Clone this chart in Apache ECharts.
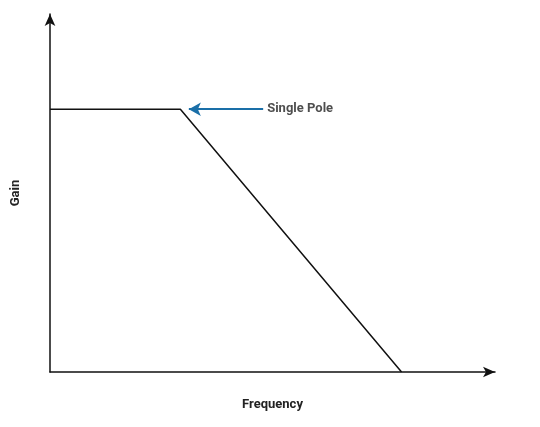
<!DOCTYPE html>
<html>
<head>
<meta charset="utf-8">
<script src="https://cdn.jsdelivr.net/npm/echarts@6/dist/echarts.min.js"></script>
<style>html,body{margin:0;background:#fff}#c{width:540px;height:427px}</style>
</head>
<body>
<div id="c"></div>
<script>
// frequency (x) and gain (y) of the response corners, axis spans 0..100
const freq = [0, 29.3, 79];
const gain = [73.4, 73.4, 0];
const poleArrow = [[47.9, 73.4], [31.2, 73.4]];
const poleLabel = "Single Pole";

const chart = echarts.init(document.getElementById("c"));
chart.setOption({
  animation: false,
  grid: { left: 50, right: 45, top: 14, bottom: 55 },
  xAxis: {
    type: "value", min: 0, max: 100,
    name: "Frequency", nameLocation: "middle", nameGap: 26,
    nameTextStyle: { fontFamily: "Roboto", fontWeight: "bold", fontSize: 13, color: "#222" },
    axisLine: { lineStyle: { color: "#111", width: 1.5 }, symbol: ["none", "arrow"], symbolSize: [8, 12] },
    axisTick: { show: false }, axisLabel: { show: false }, splitLine: { show: false }
  },
  yAxis: {
    type: "value", min: 0, max: 100,
    name: "Gain", nameLocation: "middle", nameGap: 28,
    nameTextStyle: { fontFamily: "Roboto", fontWeight: "bold", fontSize: 13, color: "#222" },
    axisLine: { show: true, lineStyle: { color: "#111", width: 1.5 }, symbol: ["none", "arrow"], symbolSize: [8, 12] },
    axisTick: { show: false }, axisLabel: { show: false }, splitLine: { show: false }
  },
  series: [
    {
      type: "line",
      data: freq.map((f, i) => [f, gain[i]]),
      symbol: "none",
      lineStyle: { color: "#111", width: 1.5 },
      markLine: {
        silent: true,
        symbol: ["none", "arrow"],
        symbolSize: [10, 12],
        lineStyle: { color: "#1a6fa8", width: 2, type: "solid" },
        label: { show: false },
        data: [[{ coord: poleArrow[0] }, { coord: poleArrow[1] }]]
      }
    },
    {
      type: "scatter",
      data: [poleArrow[0]],
      symbolSize: 0,
      label: {
        show: true, position: "right", distance: 4, formatter: poleLabel,
        fontFamily: "Roboto", fontWeight: "bold", fontSize: 13, color: "#222"
      }
    }
  ]
});
</script>
</body>
</html>
